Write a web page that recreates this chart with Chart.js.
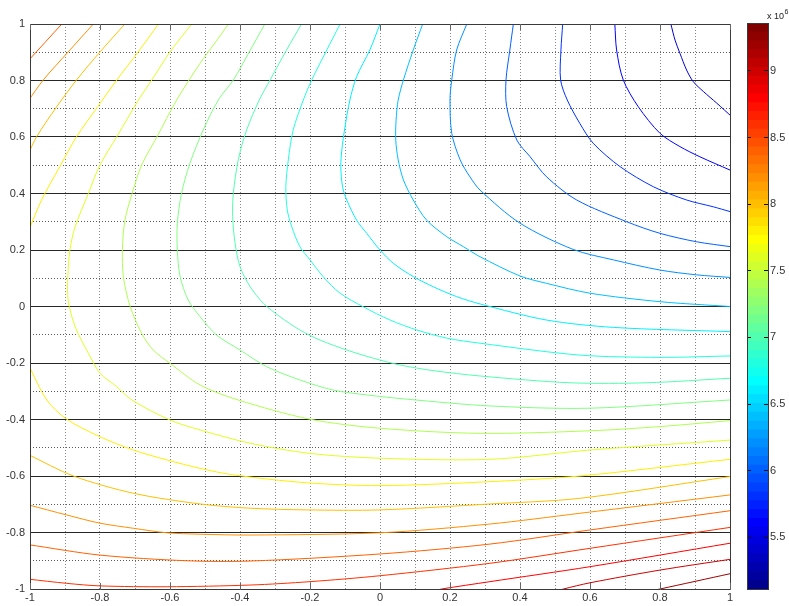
<!DOCTYPE html>
<html>
<head>
<meta charset="utf-8">
<script src="https://cdn.jsdelivr.net/npm/chart.js@4.4.1/dist/chart.umd.min.js"></script>
<style>
  html, body { margin: 0; padding: 0; background: #fff; overflow: hidden; }
  #wrap { position: relative; width: 789px; height: 606px; }
  #main { position: absolute; left: 0; top: 0; }
  #bar { position: absolute; left: 740px; top: 0; }
  #exp { position: absolute; left: 767px; top: 8px; font: 9px "Liberation Sans", Arial, sans-serif; color: #222; white-space: nowrap; line-height: 10px; }
  #exp sup { font-size: 7px; position: relative; top: -1px; margin-left: 0.5px; }
</style>
</head>
<body>
<div id="wrap">
  <canvas id="main" width="789" height="606"></canvas>
  <canvas id="bar" width="49" height="606"></canvas>
  <div id="exp">x 10<sup>6</sup></div>
</div>
<script>
// ---- contour levels (x 10^6) ----
const levels = [5.4, 5.6, 5.8, 6.0, 6.2, 6.4, 6.6, 6.8, 7.0, 7.2, 7.4, 7.6, 7.8, 8.0, 8.2, 8.4, 8.6, 8.8, 9.0, 9.2];

// ---- contour paths, [x, y] pairs ----
const c54 = [[0.831,1],[0.843,0.943],[0.857,0.896],[0.876,0.837],[0.895,0.796],[0.924,0.761],[0.962,0.72],[1.005,0.672]];
const c56 = [[0.671,1],[0.676,0.908],[0.695,0.802],[0.738,0.707],[0.8,0.613],[0.857,0.566],[0.914,0.53],[1.0,0.483]];
const c58 = [[0.522,1],[0.517,0.908],[0.516,0.802],[0.535,0.731],[0.571,0.648],[0.609,0.578],[0.686,0.495],[0.781,0.424],[0.876,0.377],[0.952,0.353],[1.0,0.336]];
const c60 = [[0.381,1],[0.371,0.908],[0.36,0.802],[0.362,0.707],[0.391,0.589],[0.429,0.53],[0.476,0.459],[0.562,0.377],[0.705,0.3],[0.8,0.259],[0.905,0.229],[1.0,0.212]];
const c62 = [[0.248,1],[0.219,0.908],[0.205,0.802],[0.2,0.731],[0.205,0.613],[0.229,0.519],[0.257,0.459],[0.286,0.412],[0.4,0.295],[0.552,0.202],[0.667,0.165],[0.8,0.129],[0.905,0.112],[1.0,0.103]];
const c64 = [[0.122,1],[0.095,0.908],[0.067,0.802],[0.052,0.731],[0.046,0.66],[0.045,0.589],[0.052,0.519],[0.067,0.448],[0.095,0.377],[0.133,0.306],[0.191,0.247],[0.238,0.212],[0.286,0.176],[0.4,0.108],[0.476,0.082],[0.6,0.047],[0.8,0.017],[1.0,0.0]];
const c66 = [[0,1],[-0.029,0.908],[-0.067,0.813],[-0.086,0.731],[-0.1,0.636],[-0.109,0.554],[-0.112,0.495],[-0.107,0.424],[-0.095,0.377],[-0.067,0.306],[-0.038,0.259],[0,0.2],[0.038,0.153],[0.095,0.106],[0.152,0.07],[0.219,0.035],[0.286,0.009],[0.476,-0.048],[0.667,-0.074],[1.0,-0.089]];
const c68 = [[-0.114,1],[-0.152,0.908],[-0.195,0.802],[-0.219,0.731],[-0.248,0.625],[-0.262,0.519],[-0.269,0.424],[-0.265,0.342],[-0.252,0.282],[-0.229,0.212],[-0.2,0.165],[-0.162,0.105],[-0.114,0.047],[-0.048,-0.001],[0.029,-0.048],[0.105,-0.083],[0.191,-0.112],[0.286,-0.13],[0.571,-0.172],[0.8,-0.18],[1.0,-0.175]];
const c70 = [[-0.224,1],[-0.267,0.908],[-0.314,0.802],[-0.345,0.731],[-0.381,0.625],[-0.405,0.519],[-0.419,0.401],[-0.421,0.318],[-0.414,0.224],[-0.4,0.141],[-0.371,0.07],[-0.333,0.011],[-0.286,-0.036],[-0.229,-0.083],[-0.171,-0.119],[-0.095,-0.154],[-0.019,-0.183],[0.057,-0.207],[0.152,-0.227],[0.286,-0.246],[0.543,-0.27],[0.762,-0.27],[1.0,-0.254]];
const c72 = [[-0.329,1],[-0.374,0.9],[-0.419,0.802],[-0.462,0.731],[-0.505,0.625],[-0.543,0.507],[-0.567,0.401],[-0.579,0.295],[-0.579,0.2],[-0.571,0.105],[-0.548,0.023],[-0.514,-0.036],[-0.467,-0.101],[-0.4,-0.154],[-0.324,-0.213],[-0.229,-0.26],[-0.133,-0.296],[-0.038,-0.313],[0.076,-0.328],[0.314,-0.352],[0.6,-0.36],[1.0,-0.331]];
const c74 = [[-0.433,1],[-0.474,0.929],[-0.514,0.861],[-0.581,0.731],[-0.638,0.599],[-0.681,0.501],[-0.708,0.401],[-0.729,0.304],[-0.736,0.202],[-0.733,0.103],[-0.714,0.001],[-0.681,-0.095],[-0.648,-0.154],[-0.6,-0.201],[-0.514,-0.278],[-0.405,-0.331],[-0.2,-0.399],[0,-0.431],[0.286,-0.449],[0.6,-0.44],[0.8,-0.425],[1.0,-0.404]];
const c76 = [[-0.538,1],[-0.6,0.901],[-0.652,0.802],[-0.69,0.731],[-0.752,0.601],[-0.8,0.501],[-0.833,0.401],[-0.871,0.282],[-0.886,0.2],[-0.892,0.105],[-0.891,0.023],[-0.871,-0.072],[-0.833,-0.166],[-0.8,-0.236],[-0.752,-0.284],[-0.709,-0.331],[-0.6,-0.402],[-0.514,-0.437],[-0.371,-0.484],[-0.2,-0.52],[0,-0.537],[0.314,-0.541],[0.6,-0.508],[1.0,-0.473]];
const c78a = [[-0.633,1],[-0.691,0.901],[-0.752,0.802],[-0.809,0.703],[-0.867,0.601],[-0.914,0.497],[-0.967,0.377],[-1.005,0.265]];
const c78b = [[-1.005,-0.205],[-0.952,-0.331],[-0.895,-0.399],[-0.8,-0.461],[-0.705,-0.508],[-0.609,-0.543],[-0.514,-0.573],[-0.419,-0.596],[-0.209,-0.624],[0,-0.634],[0.314,-0.62],[0.571,-0.6],[1.0,-0.541]];
const c80a = [[-0.729,1],[-0.8,0.901],[-0.867,0.802],[-0.926,0.703],[-0.981,0.601],[-1.005,0.54]];
const c80b = [[-1.005,-0.524],[-0.876,-0.6],[-0.705,-0.661],[-0.514,-0.699],[-0.371,-0.714],[-0.209,-0.72],[0,-0.72],[0.314,-0.699],[0.571,-0.679],[1.0,-0.602]];
const c82a = [[-0.819,1],[-0.891,0.901],[-0.962,0.802],[-1.005,0.728]];
const c82b = [[-1.005,-0.702],[-0.895,-0.738],[-0.8,-0.767],[-0.705,-0.785],[-0.609,-0.801],[-0.514,-0.806],[-0.371,-0.809],[0,-0.801],[0.314,-0.77],[0.571,-0.732],[1.0,-0.667]];
const c84a = [[-0.909,1],[-1.005,0.87]];
const c84b = [[-1.005,-0.843],[-0.8,-0.88],[-0.552,-0.9],[-0.371,-0.901],[0,-0.876],[0.314,-0.841],[0.6,-0.791],[1.0,-0.723]];
const c86a = [[-1.005,0.99],[-0.994,1]];
const c86b = [[-1.005,-0.965],[-0.895,-0.98],[-0.8,-0.989],[-0.609,-0.992],[-0.371,-0.986],[-0.2,-0.974],[0,-0.953],[0.314,-0.909],[0.6,-0.856],[1.0,-0.782]];
const c88 = [[0.16,-1.005],[0.176,-1.0],[0.314,-0.974],[0.6,-0.921],[1.0,-0.838]];
const c90 = [[0.51,-1.005],[0.524,-1.0],[0.6,-0.978],[0.8,-0.933],[1.0,-0.895]];
const c92 = [[0.78,-1.005],[0.8,-1.0],[1.0,-0.946]];

const contourPaths = [
  [c54], [c56], [c58], [c60], [c62], [c64], [c66], [c68], [c70], [c72],
  [c74], [c76], [c78a, c78b], [c80a, c80b], [c82a, c82b], [c84a, c84b],
  [c86a, c86b], [c88], [c90], [c92]
];

// ---- axes ----
const xTicks = [-1, -0.8, -0.6, -0.4, -0.2, 0, 0.2, 0.4, 0.6, 0.8, 1];
const yTicks = [-1, -0.8, -0.6, -0.4, -0.2, 0, 0.2, 0.4, 0.6, 0.8, 1];
const barTicks = [5.5, 6, 6.5, 7, 7.5, 8, 8.5, 9];
const cMin = 5.112, cMax = 9.36;   // colour limits of the colour bar
const nColors = 64;

// jet colour map, entry k (0-based) of 64
function jetColor(k) {
  const i = k + 1;
  let r, g, b;
  if (i <= 24) r = 0; else if (i <= 40) r = (i - 24) / 16; else if (i <= 56) r = 1; else r = 1 - (i - 56) / 16;
  if (i <= 8) g = 0; else if (i <= 24) g = (i - 8) / 16; else if (i <= 40) g = 1; else if (i <= 56) g = 1 - (i - 40) / 16; else g = 0;
  if (i <= 8) b = 0.5 + i / 16; else if (i <= 24) b = 1; else if (i <= 40) b = 1 - (i - 24) / 16; else b = 0;
  return `rgb(${Math.round(r * 255)},${Math.round(g * 255)},${Math.round(b * 255)})`;
}
function levelColor(v) {
  let k = Math.floor((v - cMin) / (cMax - cMin) * nColors);
  k = Math.max(0, Math.min(nColors - 1, k));
  return jetColor(k);
}

// minor grid positions halfway between labelled ticks
function withMinor(ticks) {
  const out = [];
  ticks.forEach((t, i) => {
    out.push(t);
    if (i < ticks.length - 1) out.push(Math.round((t + ticks[i + 1]) / 2 * 1000) / 1000);
  });
  return out;
}
const isLabelled = (arr, v) => arr.find(t => Math.abs(t - v) < 1e-9);

const FONT = { family: "'Liberation Sans', Arial, Helvetica, sans-serif", size: 11 };
const TEXT = '#333';

// frame around the plotting area, with inward tick marks
const framePlugin = {
  id: 'frame',
  afterDraw(chart, args, opts) {
    const { ctx, chartArea: a } = chart;
    const L = Math.round(a.left), T = Math.round(a.top), R = Math.round(a.right), B = Math.round(a.bottom);
    ctx.save();
    ctx.lineWidth = 1;
    ctx.strokeStyle = opts.color || '#333';
    ctx.strokeRect(L + 0.5, T + 0.5, R - L, B - T);
    if (opts.axis && opts.ticks) {
      const sc = chart.scales[opts.axis];
      ctx.strokeStyle = opts.tickColor || '#555';
      ctx.beginPath();
      opts.ticks.forEach(v => {
        const px = Math.round(sc.getPixelForValue(v)) + 0.5;
        ctx.moveTo(px, T); ctx.lineTo(px, T + 6);
        ctx.moveTo(px, B + 1); ctx.lineTo(px, B - 6);
      });
      ctx.stroke();
    }
    ctx.restore();
  }
};

// ---- contour plot ----
const datasets = [];
contourPaths.forEach((pieces, li) => {
  const col = levelColor(levels[li]);
  pieces.forEach(path => {
    datasets.push({
      label: String(levels[li]),
      data: path.map(p => ({ x: p[0], y: p[1] })),
      showLine: true,
      borderColor: col,
      borderWidth: 1,
      pointRadius: 0,
      tension: 0.3,
      fill: false
    });
  });
});

new Chart(document.getElementById('main'), {
  type: 'scatter',
  data: { datasets },
  plugins: [framePlugin],
  options: {
    responsive: false,
    animation: false,
    events: [],
    devicePixelRatio: 1,
    layout: { padding: { left: 0, top: 24, right: 59, bottom: 0 } },
    plugins: {
      legend: { display: false },
      tooltip: { enabled: false },
      frame: { color: '#3a3a3a', axis: 'x', ticks: xTicks, tickColor: '#666' }
    },
    scales: {
      x: {
        type: 'linear', min: -1, max: 1,
        afterBuildTicks: s => { s.ticks = withMinor(xTicks).map(v => ({ value: v })); },
        afterFit: s => { s.height = 17; },
        ticks: {
          autoSkip: false, maxRotation: 0, minRotation: 0, padding: 2,
          font: FONT, color: TEXT,
          callback: v => { const t = isLabelled(xTicks, v); return t === undefined ? '' : String(t); }
        },
        grid: { color: '#8a8a8a', lineWidth: 1, drawTicks: false },
        border: { display: false, dash: [1, 2] }
      },
      y: {
        type: 'linear', min: -1, max: 1, position: 'left',
        afterBuildTicks: s => { s.ticks = withMinor(yTicks).map(v => ({ value: v })); },
        afterFit: s => { s.width = 30; },
        ticks: {
          autoSkip: false, padding: 5, font: FONT, color: TEXT,
          callback: v => { const t = isLabelled(yTicks, v); return t === undefined ? '' : String(t); }
        },
        grid: {
          drawTicks: false, lineWidth: 1,
          color: c => (isLabelled(yTicks, c.tick.value) === undefined ? '#5a5a5a' : 'rgba(0,0,0,0)')
        },
        border: { display: false, dash: [1, 2] }
      },
      yMajor: {
        type: 'linear', min: -1, max: 1, position: 'left',
        afterBuildTicks: s => { s.ticks = yTicks.map(v => ({ value: v })); },
        afterFit: s => { s.width = 0; },
        ticks: { display: false },
        grid: { drawTicks: false, color: '#262626', lineWidth: 1 },
        border: { display: false }
      }
    }
  }
});

// ---- colour bar ----
const bandStep = (cMax - cMin) / nColors;
const barSets = [];
for (let k = 0; k < nColors; k++) {
  barSets.push({
    data: [[cMin, cMin + (k + 1) * bandStep]],
    backgroundColor: jetColor(k),
    borderWidth: 0,
    grouped: false,
    barPercentage: 1,
    categoryPercentage: 1
  });
}

new Chart(document.getElementById('bar'), {
  type: 'bar',
  data: { labels: [''], datasets: barSets },
  plugins: [framePlugin],
  options: {
    responsive: false,
    animation: false,
    events: [],
    devicePixelRatio: 1,
    layout: { padding: { left: 7, top: 23, right: 0, bottom: 17 } },
    plugins: {
      legend: { display: false },
      tooltip: { enabled: false },
      frame: { color: '#3a3a3a' }
    },
    scales: {
      x: { display: false },
      y: {
        type: 'linear', position: 'right', min: cMin, max: cMax,
        afterBuildTicks: s => { s.ticks = barTicks.map(v => ({ value: v })); },
        afterFit: s => { s.width = 21; },
        ticks: { padding: 2, font: FONT, color: TEXT, callback: v => String(v) },
        grid: { drawTicks: false, color: '#111', lineWidth: 1, z: 1 },
        border: { display: false, dash: [4, 13] }
      }
    }
  }
});
</script>
</body>
</html>
